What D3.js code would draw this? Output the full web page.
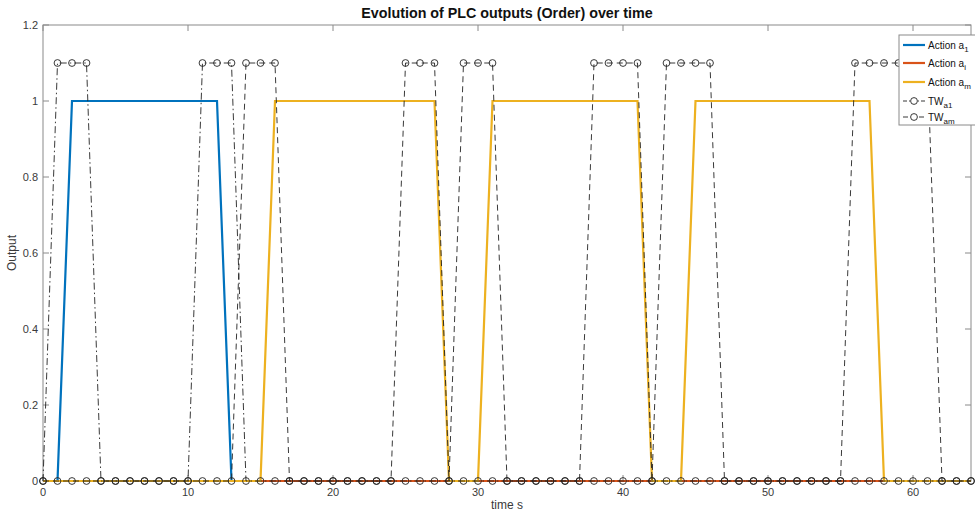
<!DOCTYPE html>
<html><head><meta charset="utf-8">
<script src="https://cdn.jsdelivr.net/npm/d3@7"></script>
<style>body{margin:0;background:#fff}svg{display:block;font-family:"Liberation Sans",Arial,sans-serif}</style>
</head><body><svg id="c" width="975" height="515"></svg>
<script>
// time samples (s)
const time = d3.range(0, 65);
const actionA1 = [0,0,1,1,1,1,1,1,1,1,1,1,1,0,0,0,0,0,0,0,
  0,0,0,0,0,0,0,0,0,0,0,0,0,0,0,0,0,0,0,0,
  0,0,0,0,0,0,0,0,0,0,0,0,0,0,0,0,0,0,0,0,
  0,0,0,0,0];
const actionAi = [0,0,0,0,0,0,0,0,0,0,0,0,0,0,0,0,0,0,0,0,
  0,0,0,0,0,0,0,0,0,0,0,0,0,0,0,0,0,0,0,0,
  0,0,0,0,0,0,0,0,0,0,0,0,0,0,0,0,0,0,0,0,
  0,0,0,0,0];
const actionAm = [0,0,0,0,0,0,0,0,0,0,0,0,0,0,0,0,1,1,1,1,
  1,1,1,1,1,1,1,1,0,0,0,1,1,1,1,1,1,1,1,1,
  1,1,0,0,0,1,1,1,1,1,1,1,1,1,1,1,1,1,0,0,
  0,0,0,0,0];
const twA1 = [0,1.1,1.1,1.1,0,0,0,0,0,0,0,1.1,1.1,1.1,0,0,0,0,0,0,
  0,0,0,0,0,0,0,0,0,0,0,0,0,0,0,0,0,0,0,0,
  0,0,0,0,0,0,0,0,0,0,0,0,0,0,0,0,0,0,0,0,
  0,0,0,0,0];
const twAm = [0,0,0,0,0,0,0,0,0,0,0,0,0,0,1.1,1.1,1.1,0,0,0,
  0,0,0,0,0,1.1,1.1,1.1,0,1.1,1.1,1.1,0,0,0,0,0,0,1.1,1.1,
  1.1,1.1,0,1.1,1.1,1.1,1.1,0,0,0,0,0,0,0,0,0,1.1,1.1,1.1,1.1,
  1.1,1.1,0,0,0];
const xTicks = [0,10,20,30,40,50,60];
const yTicks = [0,0.2,0.4,0.6,0.8,1,1.2];
const titleText = "Evolution of PLC outputs (Order) over time";
const xLabel = "time s";
const yLabel = "Output";

const svg = d3.select("#c");
const L = 43, R = 971, T = 25, B = 481;
const x = d3.scaleLinear().domain([0, 64]).range([L, R]);
const y = d3.scaleLinear().domain([0, 1.2]).range([B, T]);
const axisCol = "#8a8a8a", textCol = "#3a3a3a";

// axes box
svg.append("rect").attr("x", L).attr("y", T).attr("width", R - L).attr("height", B - T)
  .attr("fill", "none").attr("stroke", axisCol).attr("stroke-width", 1);

// ticks (inward, mirrored)
const tl = 6;
const g = svg.append("g").attr("stroke", axisCol).attr("stroke-width", 1);
xTicks.forEach(v => {
  g.append("line").attr("x1", x(v)).attr("x2", x(v)).attr("y1", B).attr("y2", B - tl);
  g.append("line").attr("x1", x(v)).attr("x2", x(v)).attr("y1", T).attr("y2", T + tl);
});
yTicks.forEach(v => {
  g.append("line").attr("x1", L).attr("x2", L + tl).attr("y1", y(v)).attr("y2", y(v));
  g.append("line").attr("x1", R).attr("x2", R - tl).attr("y1", y(v)).attr("y2", y(v));
});
svg.append("g").selectAll("text").data(xTicks).join("text")
  .attr("x", d => x(d)).attr("y", B + 15).attr("text-anchor", "middle")
  .attr("font-size", 11).attr("fill", textCol).text(d => d);
svg.append("g").selectAll("text").data(yTicks).join("text")
  .attr("x", L - 5).attr("y", d => y(d) + 4).attr("text-anchor", "end")
  .attr("font-size", 11).attr("fill", textCol).text(d => d);

// labels
svg.append("text").attr("x", (L + R) / 2).attr("y", 18).attr("text-anchor", "middle")
  .attr("font-size", 14.3).attr("font-weight", "bold").attr("fill", "#111").text(titleText);
svg.append("text").attr("x", (L + R) / 2).attr("y", 509).attr("text-anchor", "middle")
  .attr("font-size", 12).attr("fill", textCol).text(xLabel);
svg.append("text").attr("transform", `translate(16,${(T + B) / 2}) rotate(-90)`)
  .attr("text-anchor", "middle").attr("font-size", 12).attr("fill", textCol).text(yLabel);

const line = d3.line().x((d, i) => x(time[i])).y(d => y(d));
const series = [
  {vals: actionA1, color: "#0072BD", w: 2.2},
  {vals: actionAi, color: "#D95319", w: 2.2},
  {vals: actionAm, color: "#EDB120", w: 2.2}
];
series.forEach(s => {
  svg.append("path").attr("d", line(s.vals)).attr("fill", "none")
    .attr("stroke", s.color).attr("stroke-width", s.w).attr("stroke-linejoin", "miter");
});
const tws = [
  {vals: twA1, dash: "7,3,1.5,3"},
  {vals: twAm, dash: "6,4"}
];
tws.forEach(s => {
  svg.append("path").attr("d", line(s.vals)).attr("fill", "none")
    .attr("stroke", "#222").attr("stroke-width", 0.9).attr("stroke-dasharray", s.dash);
  svg.append("g").selectAll("circle").data(s.vals).join("circle")
    .attr("cx", (d, i) => x(time[i])).attr("cy", d => y(d)).attr("r", 3.4)
    .attr("fill", "none").attr("stroke", "#222").attr("stroke-width", 0.9);
});

// legend
const lg = svg.append("g");
lg.append("rect").attr("x", 899).attr("y", 35).attr("width", 90).attr("height", 90)
  .attr("fill", "#fff").attr("stroke", axisCol).attr("stroke-width", 1);
const entries = [
  {base: "Action a", sub: "1", color: "#0072BD", w: 2.2},
  {base: "Action a", sub: "i", color: "#D95319", w: 2.2},
  {base: "Action a", sub: "m", color: "#EDB120", w: 2.2},
  {base: "TW", sub: "a1", color: "#222", w: 0.9, dash: "4,2,1,2", marker: true},
  {base: "TW", sub: "am", color: "#222", w: 0.9, dash: "5,3", marker: true}
];
const ey = [45, 63, 82, 101, 117];
entries.forEach((e, i) => {
  const yy = ey[i];
  lg.append("line").attr("x1", 903).attr("x2", 925).attr("y1", yy).attr("y2", yy)
    .attr("stroke", e.color).attr("stroke-width", e.w).attr("stroke-dasharray", e.dash || null);
  if (e.marker) lg.append("circle").attr("cx", 914).attr("cy", yy).attr("r", 3.4)
    .attr("fill", "#fff").attr("stroke", "#222").attr("stroke-width", 0.9);
  const t = lg.append("text").attr("x", 928).attr("y", yy + 4).attr("font-size", 10).attr("fill", "#111");
  t.append("tspan").text(e.base);
  t.append("tspan").attr("dy", 3).attr("font-size", 8).text(e.sub);
});
</script></body></html>
